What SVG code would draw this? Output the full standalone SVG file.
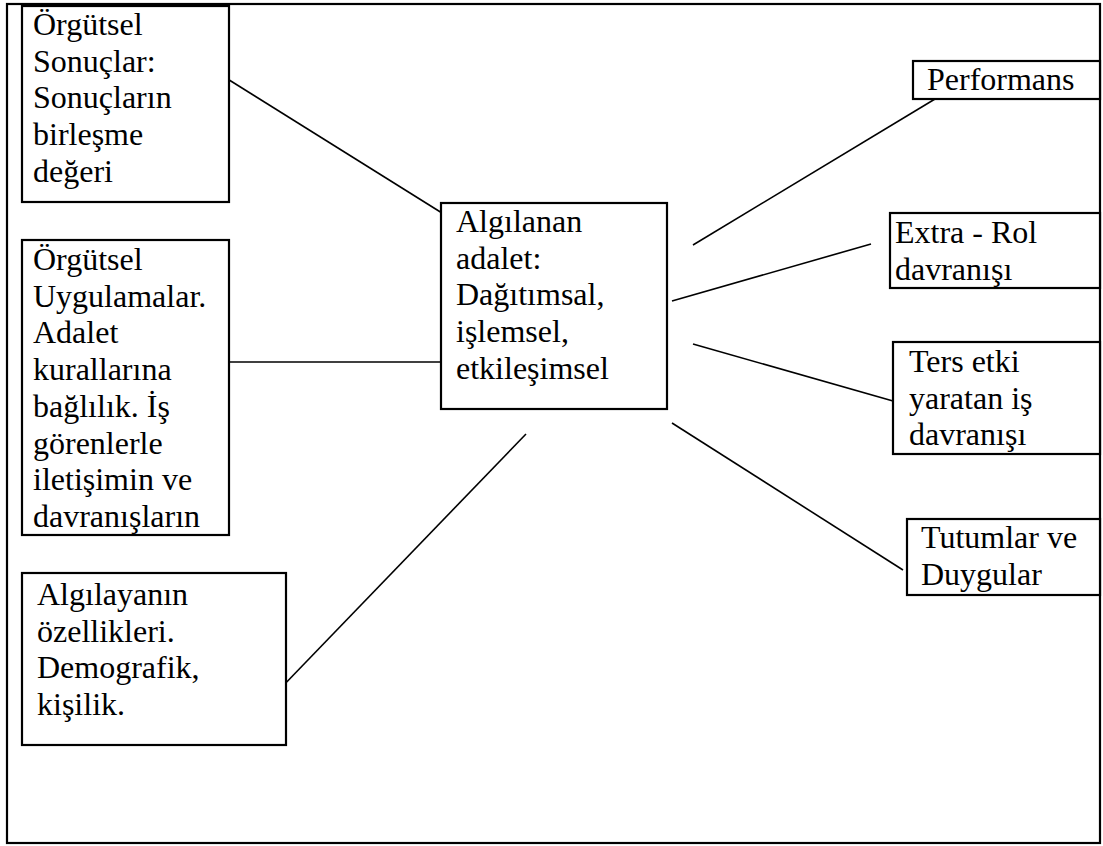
<svg xmlns="http://www.w3.org/2000/svg" width="1103" height="846" viewBox="0 0 1103 846">
<style>
.box{fill:#fff;stroke:#000;stroke-width:2.2}
.c{stroke:#000;stroke-width:1.6;fill:none}
text{font-family:'Liberation Serif','Times New Roman',Tinos,'DejaVu Serif',serif;font-size:32px;fill:#000}
</style>
<rect x="0" y="0" width="1103" height="846" fill="#fff"/>
<rect id="frame" x="7" y="4" width="1093" height="839" fill="none" stroke="#000" stroke-width="2.2"/>
<g id="connectors">
<line class="c" x1="226" y1="78" x2="450" y2="218"/>
<line class="c" x1="228" y1="362" x2="449" y2="362"/>
<line class="c" x1="279" y1="690" x2="526" y2="434"/>
<line class="c" x1="693" y1="245" x2="935" y2="99"/>
<line class="c" x1="672" y1="301" x2="871" y2="244"/>
<line class="c" x1="693" y1="344" x2="893" y2="401"/>
<line class="c" x1="672" y1="423" x2="903" y2="570"/>
</g>
<g id="n1" font-family="Liberation Serif, serif">
<rect class="box" x="22" y="6" width="207" height="196"/>
<text x="33" y="35">Örgütsel</text>
<text x="33" y="71.7">Sonuçlar:</text>
<text x="33" y="108.4">Sonuçların</text>
<text x="33" y="145.1">birleşme</text>
<text x="33" y="181.8">değeri</text>
</g>
<g id="n2">
<rect class="box" x="22" y="240" width="207" height="295"/>
<text x="33" y="270">Örgütsel</text>
<text x="33" y="306.7">Uygulamalar.</text>
<text x="33" y="343.4">Adalet</text>
<text x="33" y="380.1">kurallarına</text>
<text x="33" y="416.8">bağlılık. İş</text>
<text x="33" y="453.5">görenlerle</text>
<text x="33" y="490.2">iletişimin ve</text>
<text x="33" y="526.9">davranışların</text>
</g>
<g id="n3">
<rect class="box" x="22" y="573" width="264" height="172"/>
<text x="37" y="605">Algılayanın</text>
<text x="37" y="641.7">özellikleri.</text>
<text x="37" y="678.4">Demografik,</text>
<text x="37" y="715.1">kişilik.</text>
</g>
<g id="center">
<rect class="box" x="441" y="203" width="226" height="206"/>
<text x="456" y="232">Algılanan</text>
<text x="456" y="268.7">adalet:</text>
<text x="456" y="305.4">Dağıtımsal,</text>
<text x="456" y="342.1">işlemsel,</text>
<text x="456" y="378.8">etkileşimsel</text>
</g>
<g id="performans">
<rect class="box" x="913" y="61" width="187" height="38"/>
<text x="927" y="90">Performans</text>
</g>
<g id="extra">
<rect class="box" x="890" y="213" width="210" height="75"/>
<text x="895" y="243">Extra - Rol</text>
<text x="895" y="279.7">davranışı</text>
</g>
<g id="ters">
<rect class="box" x="893" y="342" width="207" height="112"/>
<text x="909" y="372">Ters etki</text>
<text x="909" y="408.7">yaratan iş</text>
<text x="909" y="445.4">davranışı</text>
</g>
<g id="tutumlar">
<rect class="box" x="907" y="519" width="193" height="76"/>
<text x="921" y="548">Tutumlar ve</text>
<text x="921" y="584.7">Duygular</text>
</g>
</svg>
